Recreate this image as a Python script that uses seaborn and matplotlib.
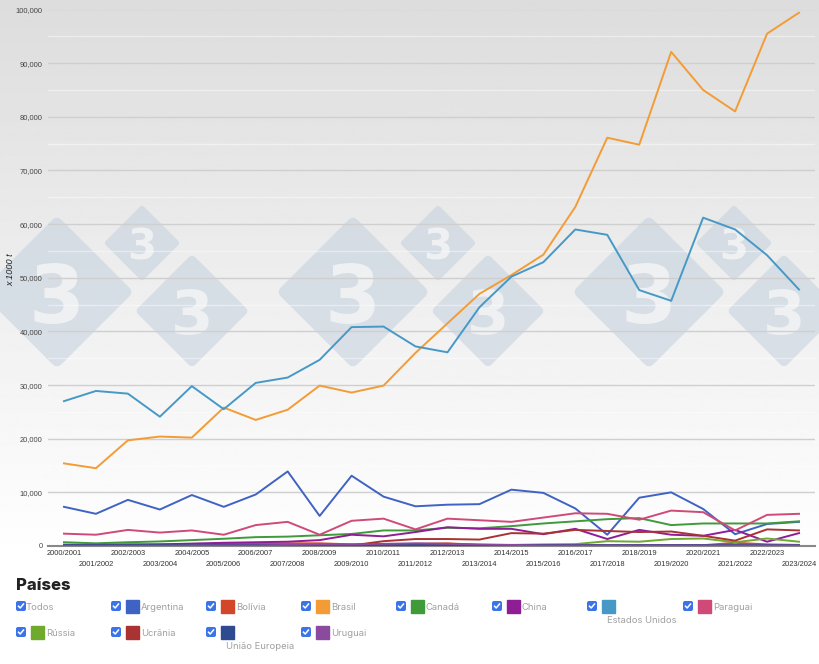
import numpy as np
import pandas as pd
import seaborn as sns
import matplotlib.pyplot as plt
from matplotlib.patches import FancyBboxPatch, Rectangle
from matplotlib.transforms import Affine2D
from matplotlib.ticker import FuncFormatter, MultipleLocator

safras = ['2000/2001', '2001/2002', '2002/2003', '2003/2004', '2004/2005', '2005/2006',
          '2006/2007', '2007/2008', '2008/2009', '2009/2010', '2010/2011', '2011/2012',
          '2012/2013', '2013/2014', '2014/2015', '2015/2016', '2016/2017', '2017/2018',
          '2018/2019', '2019/2020', '2020/2021', '2021/2022', '2022/2023', '2023/2024']

argentina = [7300, 6000, 8600, 6800, 9500, 7300, 9600, 13900, 5600, 13100, 9200, 7400,
             7700, 7800, 10500, 9900, 7000, 2100, 9000, 10000, 6900, 2200, 4100, 4500]
bolivia = [250, 250, 300, 300, 350, 400, 450, 500, 500, 300, 300, 400,
           500, 200, 150, 150, 150, 150, 150, 150, 150, 600, 300, 200]
brasil = [15400, 14500, 19700, 20400, 20200, 25800, 23500, 25400, 29900, 28600, 29900, 36000,
          41500, 47000, 50500, 54300, 63200, 76100, 74800, 92100, 85000, 81000, 95500, 99400]
canada = [700, 500, 700, 850, 1100, 1350, 1650, 1750, 2000, 2250, 2900, 2900,
          3400, 3300, 3700, 4200, 4600, 5000, 5200, 3900, 4200, 4200, 4200, 4600]
china = [200, 200, 250, 300, 450, 600, 700, 800, 1100, 2100, 1800, 2600,
         3500, 3200, 3200, 2200, 3200, 1300, 3000, 2100, 1900, 3000, 800, 2400]
estados_unidos = [27000, 28900, 28400, 24100, 29800, 25500, 30400, 31400, 34700, 40800, 40900, 37200,
                  36100, 44500, 50200, 52900, 59000, 58000, 47700, 45700, 61200, 59000, 54200, 47800]
paraguai = [2300, 2100, 3000, 2500, 2900, 2100, 3900, 4500, 2100, 4700, 5100, 3100,
            5100, 4800, 4500, 5300, 6100, 6000, 4900, 6600, 6300, 2900, 5800, 6000]
russia = [100, 100, 100, 100, 100, 150, 150, 200, 250, 250, 200, 100,
          100, 100, 200, 300, 350, 900, 800, 1300, 1400, 700, 1400, 800]
ucrania = [50, 50, 50, 50, 50, 50, 100, 100, 100, 100, 900, 1300,
           1300, 1200, 2400, 2300, 3000, 2800, 2600, 2700, 1900, 1000, 3100, 2900]
uniao_europeia = [100, 100, 100, 100, 100, 100, 100, 100, 100, 100, 100, 100,
                  100, 100, 100, 100, 100, 100, 100, 100, 100, 100, 100, 100]
uruguai = [50, 50, 50, 50, 100, 100, 100, 200, 300, 300, 400, 500,
           400, 300, 200, 100, 100, 100, 100, 100, 100, 100, 100, 100]

paises = ['Argentina', 'Bolívia', 'Brasil', 'Canadá', 'China', 'Estados Unidos',
          'Paraguai', 'Rússia', 'Ucrânia', 'União Europeia', 'Uruguai']
series = [argentina, bolivia, brasil, canada, china, estados_unidos,
          paraguai, russia, ucrania, uniao_europeia, uruguai]
cores = ['#3f63c4', '#d2472a', '#f39c35', '#3f9a3a', '#8e1d96', '#4699c6',
         '#cf4a78', '#6fa92e', '#a93232', '#2f4b8f', '#8a4a9e']

df = pd.DataFrame(dict(zip(paises, series)))
df['safra'] = safras
df_long = df.melt(id_vars='safra', var_name='pais', value_name='valor')

fig = plt.figure(figsize=(8.2, 6.64), dpi=100, facecolor='white')

# background axes in pixel coordinates: gradient, watermark and legend
bg = fig.add_axes([0, 0, 1, 1], zorder=0)
grad = np.linspace(0.865, 1.0, 256).reshape(-1, 1)
bg.imshow(grad, cmap='gray', vmin=0, vmax=1, aspect='auto', extent=[0, 820, 560, 0])
bg.set_xlim(0, 820)
bg.set_ylim(664, 0)
bg.axis('off')


def diamond(cx, cy, h, fs):
    s = h / 1.364
    box = FancyBboxPatch((-s, -s), 2 * s, 2 * s, boxstyle='round,pad=0,rounding_size=%f' % (s * 0.12),
                         facecolor='#c3d0de', edgecolor='none', alpha=0.55,
                         transform=Affine2D().rotate_deg(45).translate(cx, cy) + bg.transData)
    bg.add_patch(box)
    bg.text(cx, cy, '3', fontsize=fs, fontweight='bold', family='DejaVu Sans', color='#eef0f2',
            ha='center', va='center_baseline')


for x0 in [57, 353, 649]:
    diamond(x0, 292, 74, 58)
    diamond(x0 + 85, 243, 37, 30)
    diamond(x0 + 135, 311, 55, 44)

# legend
bg.add_patch(Rectangle((0, 562), 820, 102, color='white'))
bg.text(16, 585, 'Países', fontsize=12, fontweight='heavy', family='Inter', color='#222222', va='center')


def checkbox(x, y):
    bg.add_patch(FancyBboxPatch((x + 1, y + 1), 8, 8, boxstyle='round,pad=1,rounding_size=2',
                                facecolor='#3b73e8', edgecolor='none'))
    bg.plot([x + 2.5, x + 4.2, x + 7.5], [y + 5.2, y + 7, y + 3], color='white', lw=1.1)


checkbox(16, 601)
bg.text(26, 607.5, 'Todos', fontsize=6.8, family='Inter', color='#a0a0a0', va='center')

leg_x = [111, 206, 301, 396, 492, 587, 683, 16, 111, 206, 301]
leg_y = [601, 601, 601, 601, 601, 601, 601, 627, 627, 627, 627]
for nome, cor, x, y in zip(paises, cores, leg_x, leg_y):
    checkbox(x, y)
    bg.add_patch(Rectangle((x + 15.5, y - 1), 13, 13, color=cor))
    if nome in ['Estados Unidos', 'União Europeia']:
        bg.text(x + 20, y + 19.5, nome, fontsize=6.8, family='Inter', color='#a0a0a0', va='center')
    else:
        bg.text(x + 30, y + 6.5, nome, fontsize=6.8, family='Inter', color='#a0a0a0', va='center')

# main chart
ax = fig.add_axes([48 / 820, 1 - 546 / 664, 767 / 820, 536.5 / 664], zorder=1)
ax.patch.set_alpha(0)
sns.lineplot(data=df_long, x='safra', y='valor', hue='pais', hue_order=paises, palette=cores,
             sort=False, errorbar=None, legend=False, linewidth=1.4, ax=ax)

ax.set_xlim(-0.5, 23.5)
ax.set_ylim(0, 100000)
ax.yaxis.set_major_locator(MultipleLocator(10000))
ax.yaxis.set_minor_locator(MultipleLocator(5000))
ax.yaxis.set_major_formatter(FuncFormatter(lambda v, p: f'{int(v):,}'))
ax.grid(axis='y', which='major', color='#cfcfcf', lw=1)
ax.grid(axis='y', which='minor', color='white', alpha=0.45, lw=1)
ax.set_axisbelow(True)
for lado in ['top', 'right', 'left']:
    ax.spines[lado].set_visible(False)
ax.spines['bottom'].set_color('#888888')
ax.spines['bottom'].set_linewidth(1.5)
ax.spines['bottom'].set_zorder(1.5)

ax.set_xticks(range(len(safras)))
ax.set_xticklabels(safras, fontsize=5.4, family='Liberation Sans', color='#333333')
ax.tick_params(axis='x', length=0, pad=3)
# every second season sits on a lower row
for i, tick in enumerate(ax.xaxis.get_major_ticks()):
    if i % 2 == 1:
        tick.set_pad(11)
ax.tick_params(axis='y', which='both', length=0, pad=4)
ax.tick_params(axis='y', labelsize=5.4, labelcolor='#444444')
for t in ax.get_yticklabels():
    t.set_family('Liberation Sans')
ax.set_xlabel('')
ax.set_ylabel('')
fig.text(10.5 / 820, 1 - 270 / 664, 'x 1000 t', rotation=90, style='italic', fontsize=6.6,
         family='Liberation Sans', color='#222222', ha='center', va='center')

fig.savefig('out.png', dpi=100)
